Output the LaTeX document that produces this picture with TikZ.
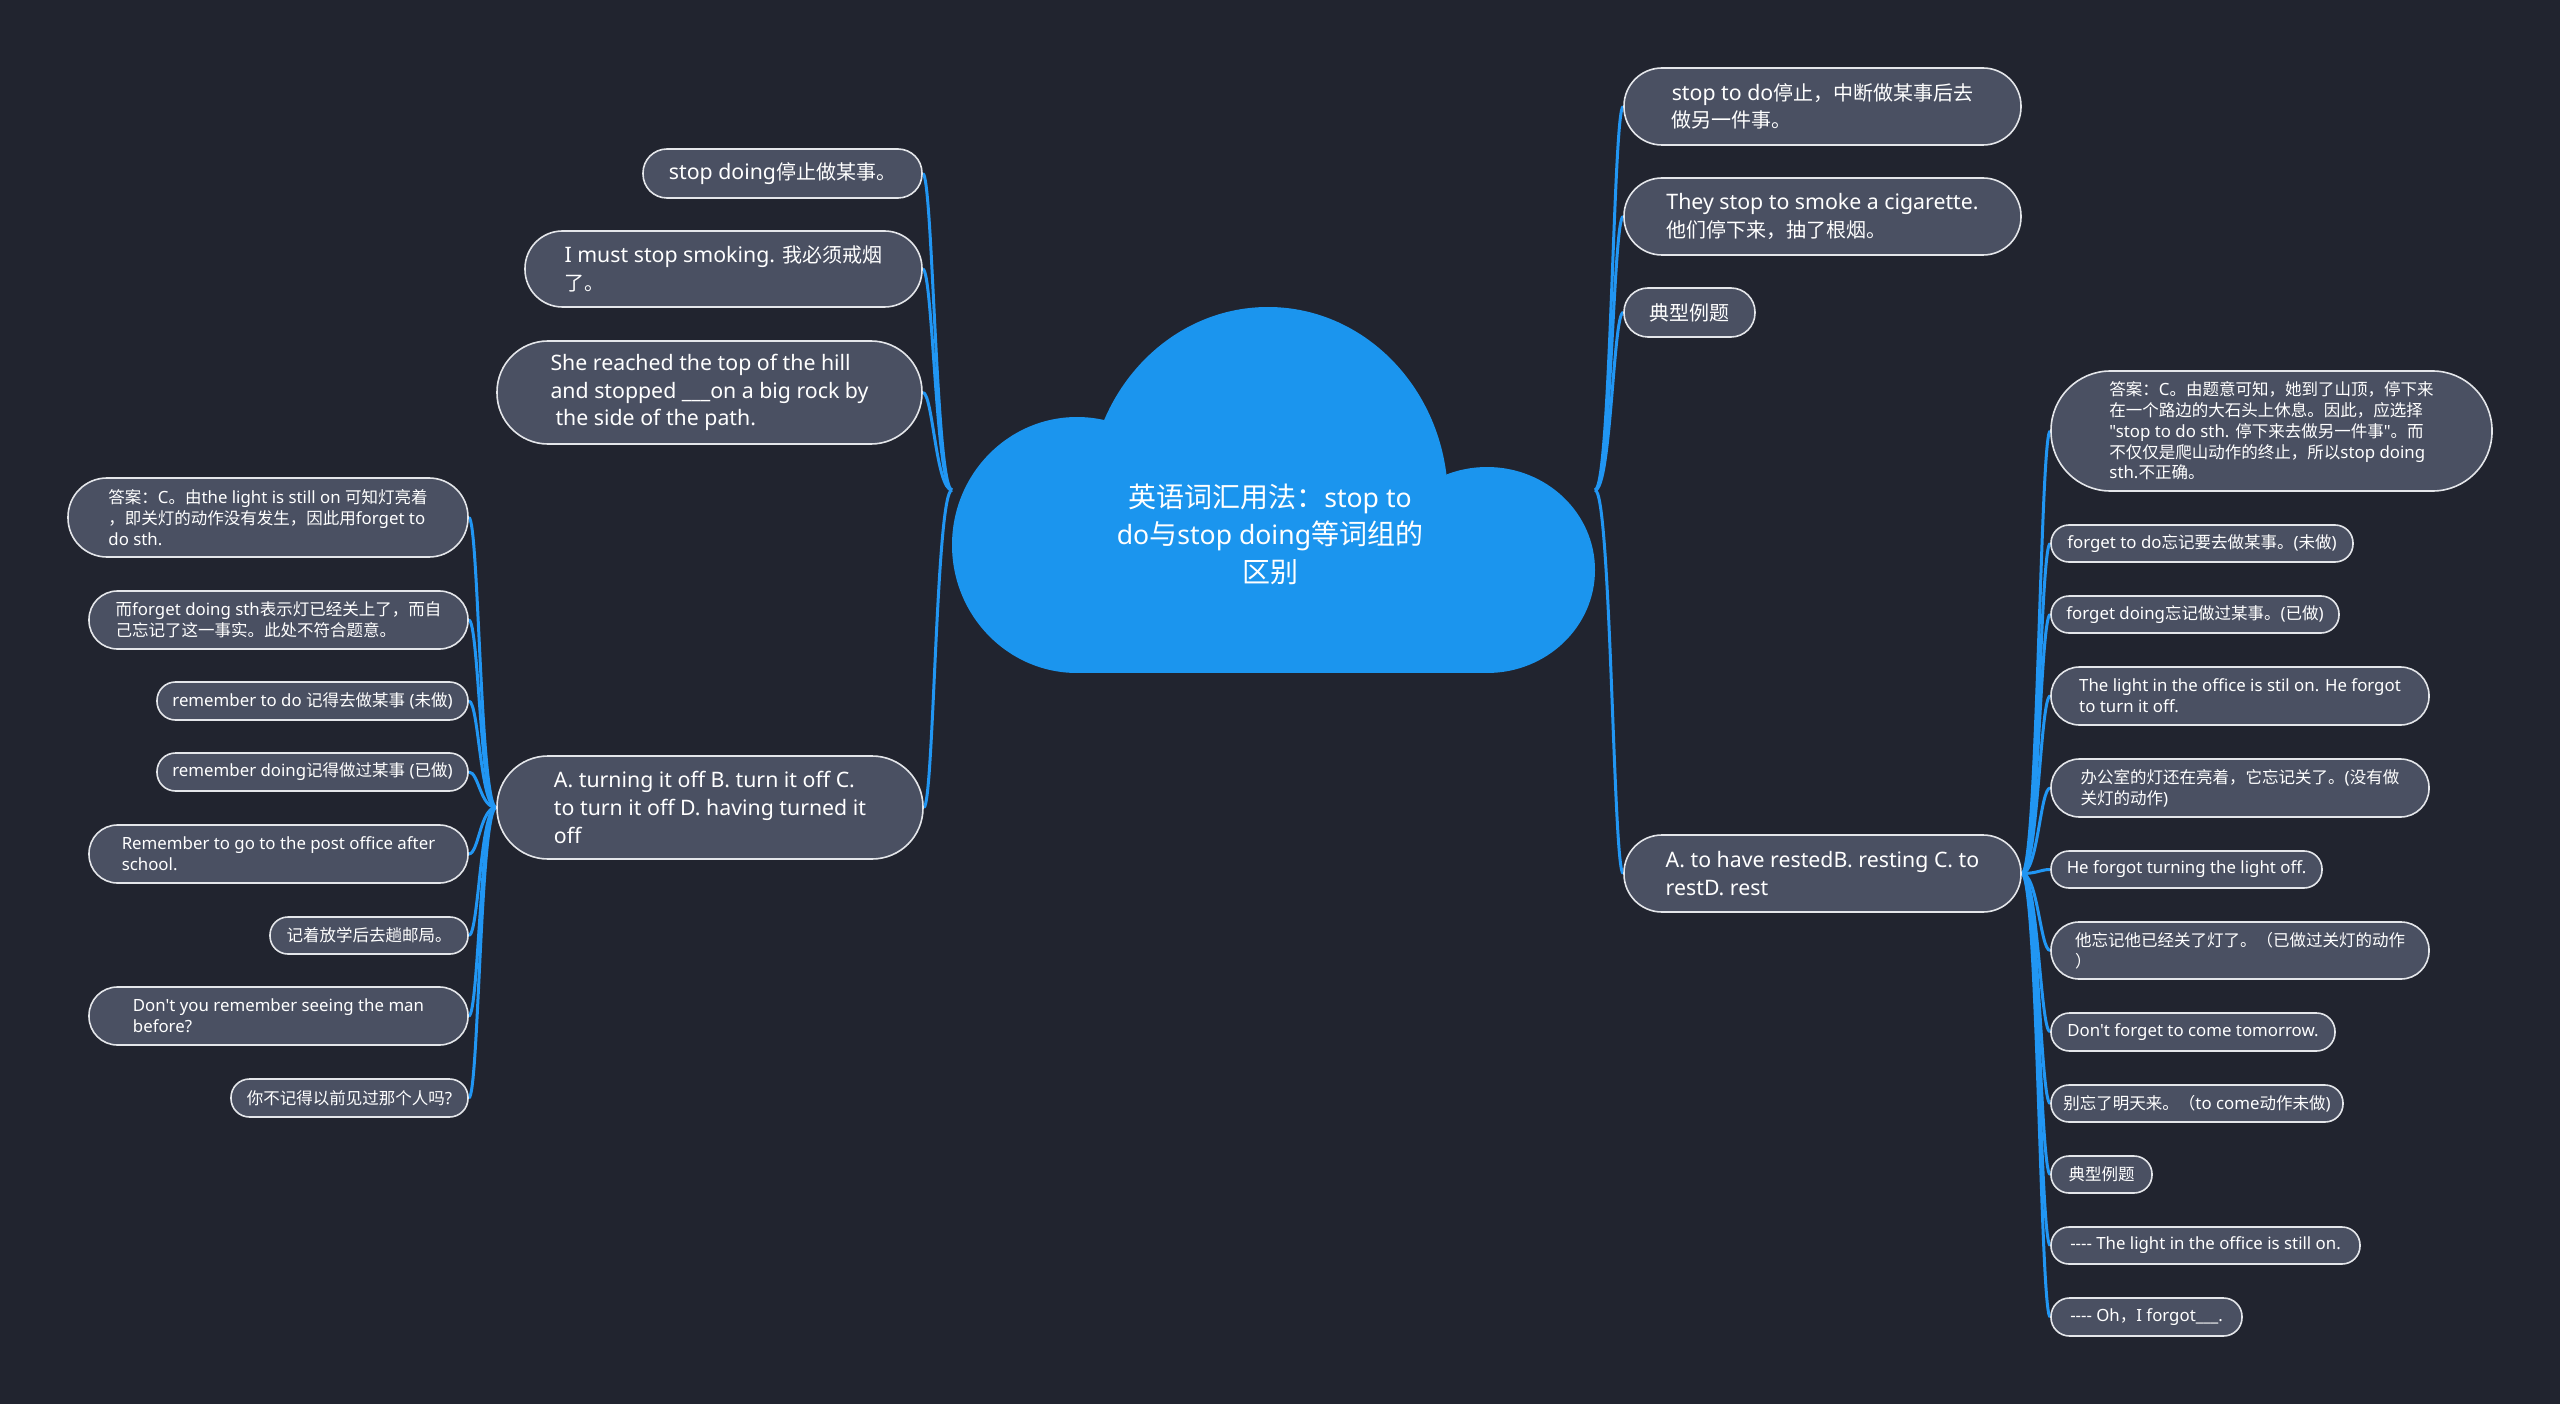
\documentclass[tikz,border=0pt]{standalone}
\usepackage{fontspec}
\setmainfont[Scale=0.95,Ligatures=TeXOff]{Noto Sans}
\newfontfamily\latinroot[Scale=0.95,Ligatures=TeXOff]{Noto Sans}
\newfontfamily\latinone[Scale=1.065,Ligatures=TeXOff]{Noto Sans}
\newfontfamily\latintwo[Scale=1.02,Ligatures=TeXOff]{Noto Sans}
\newfontfamily\cjkfam{Noto Sans CJK SC}
\let\curlatin\latinroot
\usetikzlibrary{calc}
% automatic switch to the CJK font for CJK characters
\chardef\CJKcls=10
\makeatletter
\count@="3000
\loop \XeTeXcharclass\count@=\CJKcls \advance\count@ by 1 \ifnum\count@<"3040 \repeat
\count@="4E00
\loop \XeTeXcharclass\count@=\CJKcls \advance\count@ by 1 \ifnum\count@<"A000 \repeat
\count@="FF00
\loop \XeTeXcharclass\count@=\CJKcls \advance\count@ by 1 \ifnum\count@<"FFF0 \repeat
\makeatother
\XeTeXinterchartoks 0 \CJKcls = {\cjkfam}
\XeTeXinterchartoks 4095 \CJKcls = {\cjkfam}
\XeTeXinterchartoks \CJKcls 0 = {\curlatin}
\XeTeXinterchartoks \CJKcls 4095 = {\curlatin}
\XeTeXinterchartokenstate=1

\definecolor{bgcol}{HTML}{21242F}
\definecolor{nodefill}{HTML}{4A5062}
\definecolor{nodeline}{HTML}{E4E6EA}
\definecolor{linkblue}{HTML}{2196F3}
\definecolor{cloudblue}{HTML}{1B95EE}

\pgfdeclarelayer{backlayer}
\pgfdeclarelayer{linklayer}
\pgfsetlayers{backlayer,linklayer,main}

\newcommand\myLconn[2]{\draw[conn] (#2.east) .. controls ($(#2.east)+(10,0)$) and ($(#1)+(-16,0)$) .. (#1);}
\newcommand\myRconn[2]{\draw[conn] (#2.west) .. controls ($(#2.west)+(-10,0)$) and ($(#1)+(16,0)$) .. (#1);}

\begin{document}
\begin{tikzpicture}[x=1pt,y=-1pt,
  pill/.style={rectangle, draw=nodeline, line width=1.6pt, fill=nodefill, text=white, inner sep=0pt, align=left},
  lone/.style={pill, font={\fontsize{20}{27.7}\selectfont\let\curlatin\latinone\latinone}},
  ltwo/.style={pill, font={\fontsize{16.5}{20.8}\selectfont\let\curlatin\latintwo\latintwo}},
  conn/.style={draw=linkblue, line width=3pt},
  rootstyle/.style={text=white, align=center, inner sep=0pt, font={\fontsize{28}{37.5}\selectfont\let\curlatin\latinroot\latinroot}}]

\useasboundingbox (0,0) rectangle (2560,1404);
\begin{pgfonlayer}{backlayer}
\fill[bgcol] (0,0) rectangle (2560,1404);
\fill[cloudblue] (1077,545) ellipse [x radius=125pt, y radius=128pt];
\begin{scope}
\clip (900,250) rectangle (1650,600);
\fill[cloudblue] (1268,500) ellipse [x radius=180pt, y radius=193pt];
\end{scope}
\fill[cloudblue] (1487,570) ellipse [x radius=108pt, y radius=103pt];
\fill[cloudblue] (1077,545) rectangle (1487,673);
\end{pgfonlayer}

\node[rootstyle] (root) at (1270,534) {英语词汇用法：stop to\\do与stop doing等词组的\\区别};
\coordinate (jl) at (952,490);
\coordinate (jr) at (1595,490);

% left level 1
\node[lone, minimum width=279pt, minimum height=49pt, rounded corners=24pt] (L1a) at (782.5,173.5) {stop doing停止做某事。};
\node[lone, minimum width=397pt, minimum height=76pt, rounded corners=37.5pt] (L1b) at (723.5,269) {I must stop smoking. 我必须戒烟\\了。};
\node[lone, minimum width=425pt, minimum height=103pt, rounded corners=51pt] (L1c) at (709.5,392.5) {She reached the top of the hill\\and stopped \_\_\_on a big rock by\\\hspace{5pt}the side of the path.};
\node[lone, minimum width=426pt, minimum height=103pt, rounded corners=51pt] (L1d) at (710,807.5) {A. turning it off B. turn it off C.\\to turn it off D. having turned it\\off};

% left level 2
\node[ltwo, minimum width=400pt, minimum height=79pt, rounded corners=39pt] (La) at (268,517.5) {答案：C。由the light is still on 可知灯亮着\\，即关灯的动作没有发生，因此用forget to\\do sth.};
\node[ltwo, minimum width=379pt, minimum height=58pt, rounded corners=28.5pt] (Lb) at (278.5,620) {而forget doing sth表示灯已经关上了，而自\\己忘记了这一事实。此处不符合题意。};
\node[ltwo, minimum width=311pt, minimum height=38pt, rounded corners=18.5pt] (Lc) at (312.5,701) {remember to do 记得去做某事 (未做)};
\node[ltwo, minimum width=311pt, minimum height=38pt, rounded corners=18.5pt] (Ld) at (312.5,772) {remember doing记得做过某事 (已做)};
\node[ltwo, minimum width=379pt, minimum height=58pt, rounded corners=28.5pt] (Le) at (278.5,854) {Remember to go to the post office after\\school.};
\node[ltwo, minimum width=198pt, minimum height=37pt, rounded corners=18pt] (Lf) at (369,935.5) {记着放学后去趟邮局。};
\node[ltwo, minimum width=379pt, minimum height=58pt, rounded corners=28.5pt] (Lg) at (278.5,1016) {Don't you remember seeing the man\\before?};
\node[ltwo, minimum width=237pt, minimum height=38pt, rounded corners=18.5pt] (Lh) at (349.5,1098) {你不记得以前见过那个人吗?};

% right level 1
\node[lone, minimum width=397pt, minimum height=77pt, rounded corners=38pt] (R1a) at (1822.5,106.5) {stop to do停止，中断做某事后去\\做另一件事。};
\node[lone, minimum width=397pt, minimum height=77pt, rounded corners=38pt] (R1b) at (1822.5,216.5) {They stop to smoke a cigarette.\\他们停下来，抽了根烟。};
\node[lone, minimum width=131pt, minimum height=49pt, rounded corners=24pt] (R1c) at (1689.5,312.5) {典型例题};
\node[lone, minimum width=397pt, minimum height=77pt, rounded corners=38pt] (R1d) at (1822.5,873.5) {A. to have restedB. resting C. to\\restD. rest};

% right level 2
\node[ltwo, minimum width=441pt, minimum height=120pt, rounded corners=59.5pt] (Ra) at (2271.5,431) {答案：C。由题意可知，她到了山顶，停下来\\在一个路边的大石头上休息。因此，应选择\\"stop to do sth. 停下来去做另一件事"。而\\不仅仅是爬山动作的终止，所以stop doing\\sth.不正确。};
\node[ltwo, minimum width=302pt, minimum height=37pt, rounded corners=18pt] (Rb) at (2202,543.5) {forget to do忘记要去做某事。(未做)};
\node[ltwo, minimum width=288pt, minimum height=37pt, rounded corners=18pt] (Rc) at (2195,614.5) {forget doing忘记做过某事。(已做)};
\node[ltwo, minimum width=378pt, minimum height=58pt, rounded corners=28.5pt] (Rd) at (2240,696) {The light in the office is stil on. He forgot\\to turn it off.};
\node[ltwo, minimum width=378pt, minimum height=58pt, rounded corners=28.5pt] (Re) at (2240,788) {办公室的灯还在亮着，它忘记关了。(没有做\\关灯的动作)};
\node[ltwo, minimum width=271pt, minimum height=37pt, rounded corners=18pt] (Rf) at (2186.5,869.5) {He forgot turning the light off.};
\node[ltwo, minimum width=378pt, minimum height=57pt, rounded corners=28pt] (Rg) at (2240,950.5) {他忘记他已经关了灯了。（已做过关灯的动作\\）};
\node[ltwo, minimum width=284pt, minimum height=38pt, rounded corners=18.5pt] (Rh) at (2193,1032) {Don't forget to come tomorrow.};
\node[ltwo, minimum width=292pt, minimum height=37pt, rounded corners=18pt] (Ri) at (2197,1103.5) {别忘了明天来。（to come动作未做)};
\node[ltwo, minimum width=101pt, minimum height=37pt, rounded corners=18pt] (Rj) at (2101.5,1174.5) {典型例题};
\node[ltwo, minimum width=309pt, minimum height=37pt, rounded corners=18pt] (Rk) at (2205.5,1245.5) {---- The light in the office is still on.};
\node[ltwo, minimum width=191pt, minimum height=38pt, rounded corners=18.5pt] (Rl) at (2146.5,1317) {---- Oh，I forgot\_\_\_.};

\begin{pgfonlayer}{linklayer}
\myLconn{jl}{L1a}
\myLconn{jl}{L1b}
\myLconn{jl}{L1c}
\myLconn{jl}{L1d}
\myLconn{L1d.west}{La}
\myLconn{L1d.west}{Lb}
\myLconn{L1d.west}{Lc}
\myLconn{L1d.west}{Ld}
\myLconn{L1d.west}{Le}
\myLconn{L1d.west}{Lf}
\myLconn{L1d.west}{Lg}
\myLconn{L1d.west}{Lh}
\myRconn{jr}{R1a}
\myRconn{jr}{R1b}
\myRconn{jr}{R1c}
\myRconn{jr}{R1d}
\myRconn{R1d.east}{Ra}
\myRconn{R1d.east}{Rb}
\myRconn{R1d.east}{Rc}
\myRconn{R1d.east}{Rd}
\myRconn{R1d.east}{Re}
\myRconn{R1d.east}{Rf}
\myRconn{R1d.east}{Rg}
\myRconn{R1d.east}{Rh}
\myRconn{R1d.east}{Ri}
\myRconn{R1d.east}{Rj}
\myRconn{R1d.east}{Rk}
\myRconn{R1d.east}{Rl}
\end{pgfonlayer}
\end{tikzpicture}
\end{document}
